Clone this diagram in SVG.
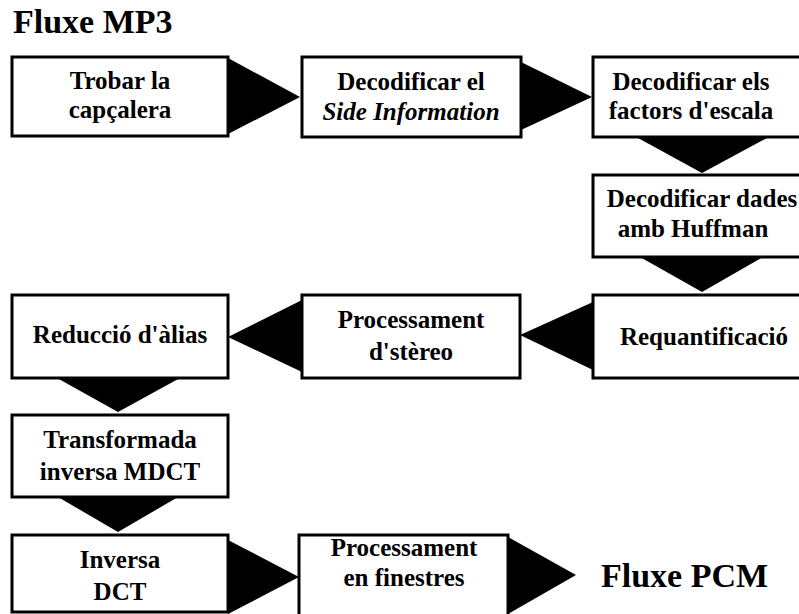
<svg xmlns="http://www.w3.org/2000/svg" width="799" height="614" viewBox="0 0 799 614">
<style>
.box{fill:#fff;stroke:#000;stroke-width:3}
.t{font-family:"Liberation Serif","Times New Roman",serif;font-weight:bold;font-size:25px;fill:#000;text-anchor:middle}
.i{font-style:italic}
.title{font-family:"Liberation Serif","Times New Roman",serif;font-weight:bold;font-size:34px;fill:#000}
.arr{fill:#000}
</style>
<rect width="799" height="614" fill="#fff"/>
<text class="title" x="13" y="33">Fluxe MP3</text>
<g id="connectors">
<polygon class="arr" points="228,58 300,97 228,134"/>
<polygon class="arr" points="521,62 592,97 521,130"/>
<polygon class="arr" points="638,138 767,138 702,173"/>
<polygon class="arr" points="640,257 763,257 702,292"/>
<polygon class="arr" points="593,302 520,335 593,370"/>
<polygon class="arr" points="302,300 228,337 302,372"/>
<polygon class="arr" points="57,378 180,378 118,412"/>
<polygon class="arr" points="58,497 178,497 118,532"/>
<polygon class="arr" points="228,540 299,577 228,614"/>
<polygon class="arr" points="508,537 576,575 508,614"/>
</g>
<g id="n1"><rect class="box" x="12" y="57" width="216" height="79"/>
<text class="t" x="120" y="89">Trobar la</text><text class="t" x="120" y="118">capçalera</text></g>
<g id="n2"><rect class="box" x="302" y="57" width="219" height="80"/>
<text class="t" x="411" y="90">Decodificar el</text><text class="t i" x="411" y="120">Side Information</text></g>
<g id="n3"><rect class="box" x="593" y="57" width="218" height="80"/>
<text class="t" x="691" y="90">Decodificar els</text><text class="t" x="691" y="119">factors d'escala</text></g>
<g id="n4"><rect class="box" x="593" y="175" width="218" height="82"/>
<text class="t" x="702" y="207">Decodificar dades</text><text class="t" x="693" y="237">amb Huffman</text></g>
<g id="n5"><rect class="box" x="593" y="295" width="218" height="83"/>
<text class="t" x="704" y="345">Requantificació</text></g>
<g id="n6"><rect class="box" x="302" y="295" width="218" height="83"/>
<text class="t" x="411" y="328">Processament</text><text class="t" x="411" y="360">d'stèreo</text></g>
<g id="n7"><rect class="box" x="12" y="295" width="216" height="83"/>
<text class="t" x="120" y="343">Reducció d'àlias</text></g>
<g id="n8"><rect class="box" x="12" y="415" width="216" height="82"/>
<text class="t" x="120" y="448">Transformada</text><text class="t" x="120" y="480">inversa MDCT</text></g>
<g id="n9"><rect class="box" x="12" y="535" width="216" height="77"/>
<text class="t" x="120" y="568">Inversa</text><text class="t" x="120" y="600">DCT</text></g>
<g id="n10"><rect class="box" x="299" y="535" width="209" height="82"/>
<text class="t" x="404" y="556">Processament</text><text class="t" x="404" y="586">en finestres</text></g>
<text class="title" x="601" y="587" font-size="32">Fluxe PCM</text>
</svg>
